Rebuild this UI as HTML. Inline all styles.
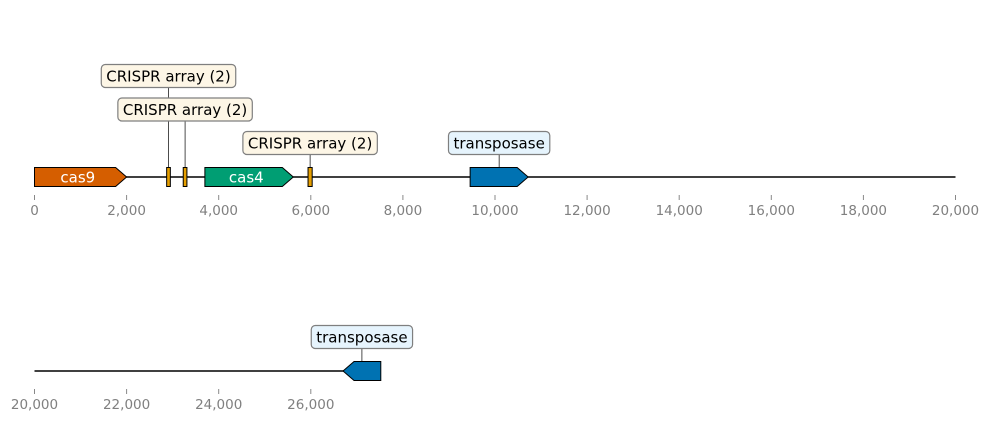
<!DOCTYPE html>
<html><head><meta charset="utf-8"><style>
body{margin:0;background:#fff}
svg{display:block;font-family:"DejaVu Sans","Liberation Sans",sans-serif}
</style></head><body>
<svg id="c" width="989" height="422"></svg>
<script>
const rowStarts=[0,20000];
const rowEnds=[20000,27520];
const featNames=["cas9","CRISPR array (2)","CRISPR array (2)","cas4","CRISPR array (2)","transposase","transposase"];
const featStart=[0,2870,3230,3700,5940,9460,26700];
const featEnd=[2000,2950,3310,5620,6030,10720,27520];
const featStrand=[1,0,0,1,0,1,-1];
const featColor=["#d55e00","#e69f00","#e69f00","#009e73","#e69f00","#0072b2","#0072b2"];
const featLabelInside=[true,false,false,true,false,false,false];
const labelLevel=[0,3,2,0,1,1,1];
const ticks=[[0,2000,4000,6000,8000,10000,12000,14000,16000,18000,20000],[20000,22000,24000,26000]];
const NS="http://www.w3.org/2000/svg";
const svg=document.getElementById('c');
const X0=34.5,K=921/20000,rowY=[177,371];
function mk(t,a,p){const e=document.createElementNS(NS,t);for(const k in a)e.setAttribute(k,a[k]);(p||svg).appendChild(e);return e;}
function sx(r,v){return X0+(v-rowStarts[r])*K;}
rowStarts.forEach((s,r)=>{
  const y=rowY[r];
  const l=mk('line',{x1:sx(r,s),x2:sx(r,rowEnds[r]),y1:y,y2:y,stroke:'#000','stroke-width':1.5});
  
  
  ticks[r].forEach(t=>{
    const x=sx(r,t);
    const tk=mk('line',{x1:x,x2:x,y1:y+18,y2:y+23,stroke:'#888','stroke-width':1});
    
    
    const tx=mk('text',{x:x,y:y+38,'text-anchor':'middle','font-size':13.5,fill:'#808080'});
    tx.textContent=t.toLocaleString('en-US');
    
    
  });
});
featNames.forEach((n,i)=>{
  const r=featStart[i]>=20000?1:0;
  const y=rowY[r],h=9.5;
  const a=sx(r,featStart[i]),b=sx(r,featEnd[i]);
  const hw=Math.min(11,(b-a));
  let pts;
  if(featStrand[i]===1)pts=[[a,y-h],[b-hw,y-h],[b,y],[b-hw,y+h],[a,y+h]];
  else if(featStrand[i]===-1)pts=[[b,y-h],[a+hw,y-h],[a,y],[a+hw,y+h],[b,y+h]];
  else pts=[[a,y-h],[b,y-h],[b,y+h],[a,y+h]];
  const p=mk('polygon',{points:pts.map(q=>q.join(',')).join(' '),fill:featColor[i],stroke:'#000','stroke-width':1});
  
  
  const cx=(a+b)/2;
  if(featLabelInside[i]){
    const t=mk('text',{x:cx-(featStrand[i]*hw/4),y:y+5.5,'text-anchor':'middle','font-size':15,fill:'#fff'});
    t.textContent=n;
    
    
  }else{
    const ly=y-34-(labelLevel[i]-1)*33.5;
    mk('line',{x1:cx,x2:cx,y1:ly,y2:y-h,stroke:'#000','stroke-width':0.7});
    const blue=n==='transposase';
    const bx=mk('rect',{y:ly-11.5,height:23,rx:4,fill:blue?'#e6f4fd':'#fdf6e6',stroke:'#7f7f7f','stroke-width':1.2});
    
    
    const t=mk('text',{x:cx,y:ly+5.5,'text-anchor':'middle','font-size':15,fill:'#000'});
    t.textContent=n;
    
    
    const w=t.getComputedTextLength()+10;
    bx.setAttribute('x',cx-w/2);
    bx.setAttribute('width',w);
  }
});
</script>
</body></html>
